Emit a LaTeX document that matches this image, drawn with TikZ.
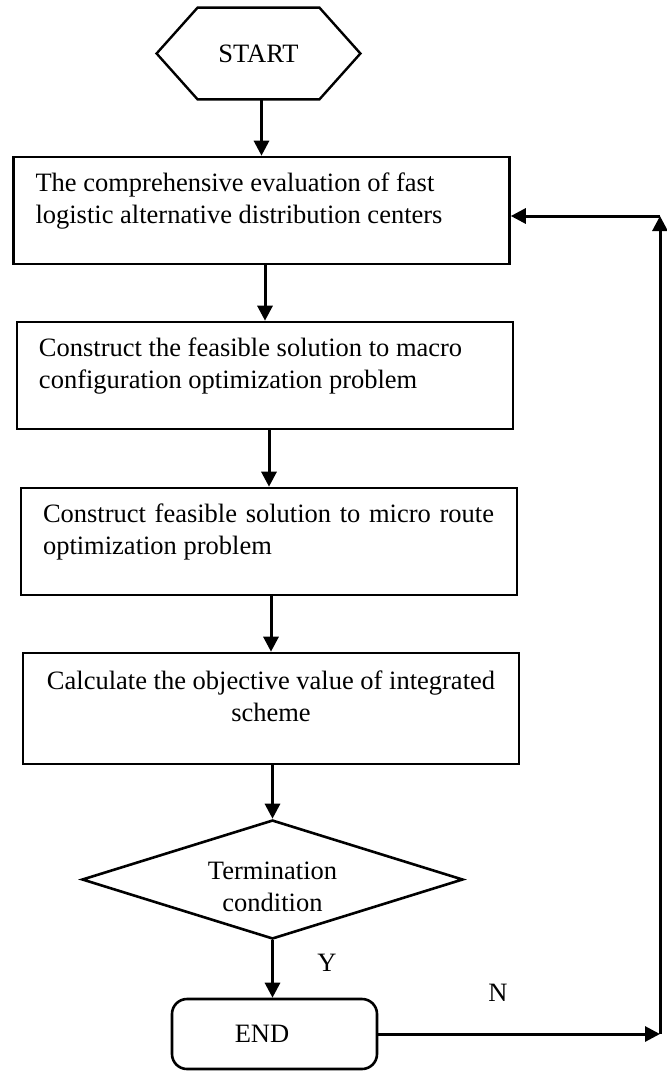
\documentclass[tikz,border=0pt]{standalone}
\usepackage{fontspec}
\setmainfont{Liberation Serif}
\usetikzlibrary{shapes.geometric, arrows.meta}
\newcommand{\celltext}[3]{\raisebox{#1}[\height][\depth]{\spaceskip=0pt\xspaceskip=0pt\begin{tabular}{@{}#2@{}}#3\end{tabular}}}

\begin{document}
\begin{tikzpicture}[x=0.5pt, y=-0.5pt,
    font=\fontsize{13.25}{16}\selectfont,
    stepbox/.style={draw, line width=1.3pt, text width=226pt, inner xsep=11pt, inner ysep=0pt, minimum height=#1, align=left},
    flow/.style={line width=1.5pt, -{Triangle[length=7.5pt, width=7.5pt]}}]
  \useasboundingbox (0,0) rectangle (667,1071);

  % start
  \node[minimum width=101.5pt, minimum height=45.5pt, inner sep=0pt] (start) at (258.5,53.5) {START};
  \draw[line width=1.2pt] (start.west) -- ([xshift=20.5pt]start.north west) -- ([xshift=-20.5pt]start.north east)
    -- (start.east) -- ([xshift=-20.5pt]start.south east) -- ([xshift=20.5pt]start.south west) -- cycle;

  % steps
  \node[stepbox=53.5pt] (eval) at (261.5,210.5)
    {\celltext{4.5pt}{l}{The comprehensive evaluation of fast\\logistic alternative distribution centers}};
  \node[stepbox=53.5pt] (macro) at (265,375.5)
    {\celltext{4.5pt}{l}{Construct the feasible solution to macro\\configuration optimization problem}};
  \node[stepbox=53.5pt] (micro) at (269,541.5)
    {\celltext{4.5pt}{l}{\makebox[225.5pt][s]{Construct feasible solution to micro route}\\optimization problem}};
  \node[stepbox=55.5pt, align=center] (calc) at (271,708.5)
    {\celltext{4.5pt}{c}{Calculate the objective value of integrated\\scheme}};
  \node[diamond, draw, line width=1.3pt, aspect=3.2, minimum width=190.5pt, minimum height=59.5pt, inner sep=0pt] (term) at (272.5,879.5)
    {\celltext{-5pt}{c}{Termination\\condition}};
  \node[rectangle, rounded corners=7.5pt, draw, line width=1.3pt, minimum width=102.5pt, minimum height=35pt] (stop) at (274.5,1034)
    {END\hspace*{12.5pt}};

  % arrows
  \draw[flow] (eval.north |- start.south) -- (eval.north);
  \draw[flow] (macro.north |- eval.south) -- (macro.north);
  \draw[flow] (micro.north |- macro.south) -- (micro.north);
  \draw[flow] (calc.north |- micro.south) -- (calc.north);
  \draw[flow] (term.north |- calc.south) -- (term.north);
  \draw[flow] (term.south) -- (term.south |- stop.north);
  \node (yes) at (327,963) {Y};

  % loop back
  \coordinate (back) at (660,1034);
  \coordinate (up) at (660,216);
  \draw[flow] (stop.east) -- (back);
  \draw[flow] (back) -- (up);
  \draw[flow] (up) -- (up -| eval.east);
  \node (no) at (498,993) {N};
\end{tikzpicture}
\end{document}
